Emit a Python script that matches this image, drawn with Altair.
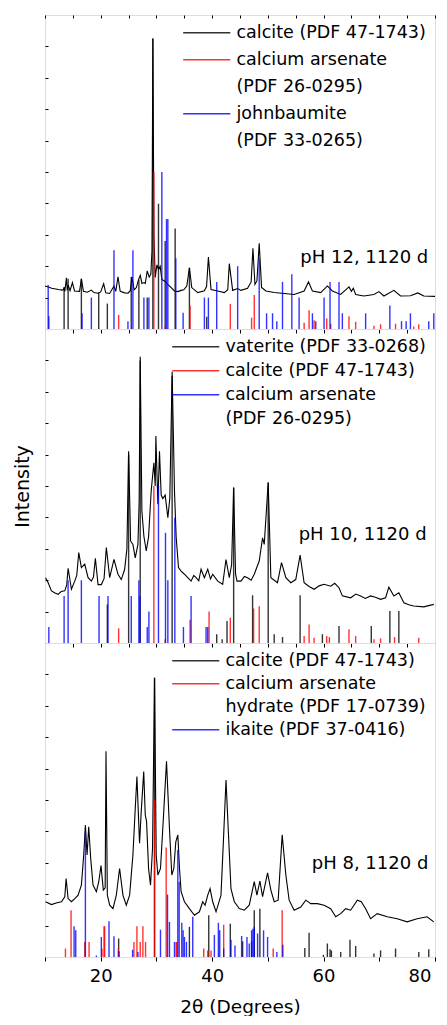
import altair as alt
import pandas as pd

FONT = "DejaVu Sans"
BLACK, RED, BLUE, NONE = "#000000", "#ff0000", "#0000ff", "rgba(0,0,0,0)"

# ---------------- Top panel : pH 12, 1120 d ----------------
TOP_CURVE = [
    (10.0, 13.7), (10.6, 13.4), (11.2, 13.0), (12.4, 12.6), (13.2, 12.4), (13.43, 13.0), (13.55, 12.0),
    (13.85, 16.3), (14.0, 12.3), (14.15, 14.0), (14.5, 12.2), (14.92, 14.8), (15.3, 12.1), (16.2, 12.0),
    (16.53, 16.0), (16.9, 12.0), (17.6, 11.7), (18.32, 12.4), (18.8, 11.6), (19.5, 11.4), (20.0, 11.8),
    (20.53, 14.4), (20.9, 11.5), (21.6, 11.3), (22.38, 13.7), (22.7, 12.0), (23.1, 16.6), (23.5, 12.0),
    (24.3, 11.5), (24.9, 11.4), (25.3, 12.2), (25.6, 16.6), (26.0, 12.5), (26.4, 13.2), (26.8, 15.8),
    (27.1, 17.1), (27.4, 14.5), (27.8, 14.8), (28.0, 14.5), (28.35, 18.5), (28.7, 16.5), (29.0, 17.5),
    (29.2, 25.0), (29.36, 92.5), (29.55, 30.0), (29.78, 16.4), (30.08, 20.4), (30.37, 19.0), (30.67, 20.0),
    (30.97, 15.8), (31.45, 15.3), (32.05, 14.2), (32.64, 13.2), (33.24, 12.1), (33.84, 11.9), (34.43, 12.3),
    (34.9, 12.5), (35.45, 13.7), (35.92, 19.5), (36.34, 13.2), (37.42, 11.6), (38.6, 12.2), (39.0, 13.5),
    (39.33, 22.9), (39.8, 12.6), (41.0, 12.1), (42.19, 11.6), (42.8, 12.5), (43.08, 20.8), (43.68, 12.3),
    (44.58, 12.9), (45.17, 12.3), (46.36, 13.0), (47.0, 15.0), (47.32, 25.7), (47.68, 14.2), (48.04, 15.3),
    (48.45, 27.3), (48.87, 13.2), (49.65, 12.1), (51.14, 11.6), (52.93, 11.3), (54.72, 11.0), (56.51, 12.1),
    (57.29, 15.0), (58.0, 12.1), (59.49, 11.6), (60.68, 13.7), (61.58, 12.1), (63.07, 11.0), (64.56, 13.4),
    (65.0, 12.0), (65.34, 13.0), (65.76, 11.0), (67.25, 10.5), (69.04, 11.0), (69.93, 11.9), (70.83, 10.5),
    (72.62, 12.3), (73.81, 10.5), (75.59, 10.6), (76.91, 11.5), (77.99, 10.5), (80.0, 10.4),
]
# legend rows (a row whose colour is NONE continues the label of the row above)
TOP_LEGEND = ["calcite (PDF 47-1743)", "calcium arsenate", "(PDF 26-0295)", "johnbaumite", "(PDF 33-0265)"]
TOP_LEGEND_COLORS = [BLACK, RED, NONE, BLUE, NONE]
TOP_BLACK = [
    (13.43, 13.4), (14.15, 16.0), (16.53, 16.0), (19.64, 11.6), (21.19, 8.1), (25.48, 16.6), (26.85, 15.8),
    (28.35, 10.0), (29.36, 92.5), (30.37, 39.9), (31.57, 28.0), (33.36, 32.0), (35.92, 19.5), (39.03, 3.9),
]
TOP_RED = [
    (23.22, 4.5), (29.54, 50.0), (31.57, 1.0), (36.04, 7.5), (43.26, 8.0), (47.08, 3.6), (47.56, 10.8),
    (56.51, 2.0), (57.40, 6.0), (58.30, 2.8), (60.56, 3.4), (61.28, 1.7), (64.56, 4.1), (65.76, 2.3),
    (69.04, 1.0), (70.23, 1.5), (72.92, 1.7), (76.19, 0.8), (77.09, 1.5),
]
TOP_BLUE = [
    (10.57, 14.0), (10.69, 4.1), (16.65, 5.0), (18.32, 10.0), (22.38, 25.1), (24.89, 2.5), (25.78, 25.1),
    (27.75, 10.0), (28.65, 10.0), (30.97, 50.0), (31.81, 35.0), (32.05, 35.0), (33.48, 22.5), (34.79, 5.2),
    (38.61, 10.0), (39.33, 10.0), (40.82, 15.0), (44.58, 20.0), (48.45, 22.5), (49.77, 5.0), (50.84, 5.0),
    (51.61, 2.5), (52.63, 15.0), (54.30, 17.4), (55.61, 10.0), (58.0, 5.0), (58.6, 2.5), (60.09, 10.0),
    (61.16, 15.0), (62.77, 15.0), (63.37, 5.0), (67.55, 5.0), (71.90, 7.5), (73.99, 2.5), (74.82, 2.5),
    (75.59, 5.0), (78.88, 2.5), (79.78, 5.0),
]
TOP_LABEL = ("pH 12, 1120 d", 78.8, 22.6)

# ---------------- Middle panel : pH 10, 1120 d ----------------
MID_CURVE = [
    (10.09, 20.8), (10.57, 19.2), (11.16, 16.6), (11.8, 15.9), (12.36, 15.5), (12.9, 16.4), (13.55, 16.6),
    (13.9, 18.5), (14.15, 23.8), (14.74, 17.1), (15.34, 19.7), (15.7, 21.5), (16.06, 28.8), (16.53, 24.0),
    (17.13, 25.1), (17.73, 20.8), (18.32, 19.7), (18.7, 21.0), (19.04, 27.0), (19.52, 18.6), (20.11, 18.6),
    (20.6, 20.5), (21.01, 30.4), (21.61, 20.8), (22.38, 26.6), (23.10, 21.9), (23.69, 20.2), (24.29, 23.4),
    (24.7, 30.0), (25.01, 61.1), (25.36, 32.5), (25.78, 31.4), (26.20, 27.1), (26.68, 31.4), (26.9, 45.0),
    (27.09, 91.2), (27.39, 42.0), (27.75, 34.0), (28.17, 29.3), (28.59, 33.8), (29.06, 48.4), (29.54, 57.4),
    (29.78, 50.0), (29.90, 65.9), (30.26, 44.2), (30.55, 61.1), (30.85, 47.1), (31.15, 46.0), (31.57, 47.1),
    (32.05, 39.9), (32.40, 46.0), (32.82, 86.4), (33.24, 48.4), (33.54, 33.8), (33.96, 24.0), (34.43, 22.9),
    (35.03, 21.9), (35.63, 20.8), (36.22, 19.7), (36.7, 21.5), (37.12, 20.8), (37.6, 19.8), (38.01, 23.5),
    (38.61, 20.8), (39.21, 23.5), (39.7, 20.4), (40.10, 21.9), (41.00, 19.7), (41.89, 18.7), (42.49, 26.6),
    (43.08, 20.8), (43.5, 25.0), (43.86, 49.5), (44.2, 22.0), (44.46, 19.7), (45.17, 19.7), (45.8, 21.2),
    (46.36, 20.8), (47.0, 20.0), (47.56, 21.9), (48.45, 26.1), (49.05, 33.5), (49.35, 31.4), (50.06, 51.1),
    (50.54, 20.8), (51.73, 19.2), (52.45, 25.6), (53.23, 20.8), (54.12, 19.2), (55.01, 20.2), (55.79, 28.0),
    (56.51, 19.2), (57.4, 18.0), (58.30, 17.1), (59.2, 18.2), (60.09, 18.7), (61.28, 18.1), (62.0, 19.0),
    (62.77, 17.6), (63.37, 15.0), (64.86, 14.4), (65.8, 15.6), (66.65, 15.0), (67.5, 14.2), (68.44, 15.0),
    (69.3, 14.6), (70.23, 13.9), (71.13, 14.4), (71.72, 17.8), (72.62, 15.0), (73.51, 16.0), (74.41, 12.8),
    (75.3, 12.2), (76.19, 11.8), (77.99, 11.5), (79.78, 12.3),
]
MID_LEGEND = ["vaterite (PDF 33-0268)", "calcite (PDF 47-1743)", "calcium arsenate", "(PDF 26-0295)"]
MID_LEGEND_COLORS = [BLACK, RED, BLUE, NONE]
MID_BLACK = [
    (21.19, 12.3), (25.01, 60.0), (27.09, 90.0), (32.82, 85.0), (40.82, 2.8), (41.80, 1.2), (42.67, 7.0),
    (43.86, 49.5), (47.26, 15.2), (50.06, 51.1), (51.14, 2.8), (52.63, 1.9), (55.79, 15.2), (59.79, 2.8),
    (62.77, 5.4), (68.56, 5.4), (71.90, 10.2), (73.51, 10.2),
]
MID_RED = [
    (23.22, 4.7), (29.54, 50.0), (31.57, 1.2), (36.04, 7.4), (39.45, 10.0), (43.26, 8.1), (47.44, 11.0),
    (48.45, 11.7), (56.51, 2.2), (57.40, 5.9), (58.30, 1.7), (60.56, 2.2), (61.04, 1.9), (64.56, 4.4),
    (65.76, 2.2), (69.04, 1.2), (70.23, 1.5), (72.74, 1.9), (77.09, 1.7),
]
MID_BLUE = [
    (10.69, 5.1), (13.43, 15.0), (14.15, 20.0), (16.53, 20.0), (19.70, 15.0), (21.31, 15.0), (25.48, 15.0),
    (26.85, 20.0), (27.03, 15.0), (28.35, 5.1), (28.65, 10.0), (30.37, 50.0), (31.63, 35.1), (32.05, 20.0),
    (33.30, 39.9), (34.85, 5.1), (36.22, 15.0), (38.91, 5.1), (39.21, 5.1),
]
MID_LABEL = ("pH 10, 1120 d", 78.5, 34.4)

# ---------------- Bottom panel : pH 8, 1120 d ----------------
BOT_CURVE = [
    (10.09, 17.6), (11.16, 16.7), (12.0, 17.2), (12.95, 17.6), (13.55, 19.2), (13.79, 25.0), (14.15, 18.6),
    (14.74, 17.6), (15.34, 18.6), (15.94, 19.7), (16.53, 22.9), (16.95, 32.5), (17.25, 42.0), (17.55, 32.5),
    (17.85, 41.5), (18.20, 31.4), (18.62, 22.9), (19.22, 20.8), (19.64, 23.9), (20.05, 29.1), (20.47, 21.3),
    (20.8, 22.0), (20.95, 65.5), (21.19, 19.7), (21.61, 16.5), (22.20, 15.4), (22.80, 19.7), (23.39, 28.2),
    (23.99, 19.7), (24.59, 16.5), (25.19, 19.7), (25.78, 32.5), (26.20, 47.4), (26.50, 57.5), (26.80, 43.7),
    (26.97, 36.2), (27.27, 46.3), (27.72, 59.1), (27.99, 45.3), (28.23, 43.1), (28.59, 28.2), (28.94, 22.9),
    (29.30, 34.6), (29.66, 88.9), (29.96, 32.5), (30.26, 26.1), (30.73, 28.2), (31.21, 43.1), (31.81, 62.3),
    (32.34, 40.9), (32.76, 26.1), (33.12, 28.2), (33.48, 36.7), (33.84, 38.9), (34.14, 28.2), (34.43, 20.8),
    (35.03, 17.6), (35.92, 15.4), (36.82, 13.3), (37.71, 14.4), (38.31, 17.6), (38.73, 16.5), (39.21, 19.7),
    (39.63, 21.8), (40.10, 17.6), (40.70, 14.4), (41.59, 19.7), (42.07, 38.9), (42.49, 56.4), (42.91, 39.9),
    (43.38, 21.8), (43.98, 17.6), (44.87, 15.4), (45.77, 14.9), (46.66, 16.5), (47.56, 24.0), (48.04, 19.7),
    (48.57, 24.2), (49.05, 19.2), (49.95, 26.8), (50.54, 21.3), (51.14, 17.6), (51.85, 18.1), (52.57, 38.9),
    (53.23, 26.1), (53.82, 18.1), (54.72, 14.9), (55.91, 15.9), (56.81, 18.1), (57.70, 17.0), (58.89, 17.0),
    (60.09, 16.5), (61.28, 15.4), (62.18, 12.8), (63.07, 13.8), (63.97, 15.4), (64.86, 14.9), (66.06, 18.1),
    (66.77, 17.6), (67.55, 15.4), (68.44, 12.2), (69.63, 13.8), (71.43, 12.8), (73.22, 12.2), (75.00, 11.2),
    (76.79, 12.2), (78.58, 12.8), (79.78, 11.2),
]
BOT_LEGEND = ["calcite (PDF 47-1743)", "calcium arsenate", "hydrate (PDF 17-0739)", "ikaite (PDF 37-0416)"]
BOT_LEGEND_COLORS = [BLACK, RED, NONE, BLUE]
BOT_BLACK = [
    (23.22, 5.9), (29.66, 88.9), (35.92, 9.6), (39.39, 13.3), (43.26, 10.6), (45.47, 5.0), (47.08, 5.0),
    (47.56, 14.9), (48.57, 15.4), (56.63, 2.9), (57.40, 7.7), (59.97, 0.7), (60.68, 4.3), (61.16, 2.5),
    (61.40, 2.1), (63.07, 1.6), (64.74, 5.5), (65.76, 3.5), (69.04, 1.1), (70.23, 2.1), (72.92, 2.7),
    (77.09, 1.6), (78.88, 2.5),
]
BOT_RED = [
    (13.67, 2.7), (14.68, 14.9), (17.13, 4.8), (17.91, 4.8), (20.23, 2.7), (20.59, 9.8), (20.71, 9.8),
    (23.16, 2.7), (25.96, 4.8), (26.50, 9.8), (27.09, 4.8), (27.57, 9.8), (28.05, 4.8), (29.66, 50.0),
    (31.75, 34.9), (33.54, 4.8), (33.66, 4.8), (38.49, 2.7), (39.21, 2.1), (39.80, 2.1), (42.07, 10.3),
    (50.96, 2.7), (52.57, 14.9),
]
BOT_BLUE = [
    (15.22, 9.8), (15.52, 8.5), (17.25, 40.0), (19.22, 0.5), (20.11, 6.4), (21.49, 11.4), (22.38, 6.6),
    (23.28, 1.8), (25.72, 2.3), (26.68, 1.6), (30.73, 8.7), (31.99, 19.9), (32.34, 11.2), (33.24, 4.8),
    (33.84, 34.1), (34.08, 24.0), (34.55, 10.9), (34.79, 8.5), (35.03, 6.4), (35.39, 4.8), (36.52, 12.8),
    (40.40, 7.0), (41.12, 10.9), (41.36, 8.5), (42.07, 2.7), (43.38, 5.5), (44.10, 3.7), (45.29, 6.7),
    (46.25, 6.4), (46.66, 4.3), (47.08, 8.5), (47.32, 9.0), (47.56, 9.6), (48.16, 7.5), (49.23, 8.5),
    (49.95, 6.4), (51.61, 1.6), (52.69, 3.9),
]
BOT_LABEL = ("pH 8, 1120 d", 78.8, 29.7)

X_TITLE = "2θ (Degrees)"
Y_TITLE = "Intensity"
X_TICKS = list(range(10, 81, 5))
Y_TICKS = list(range(10, 100, 10))


def panel(curve, legend_rows, legend_colors, black, red, blue, label, row_pad, position):
    curve_df = pd.DataFrame(curve, columns=["two_theta", "intensity"])
    phase_names = [r for r, c in zip(legend_rows, legend_colors) if c != NONE]
    rows = []
    for name, sticks in zip(phase_names, [black, red, blue]):
        for t, i in sticks:
            rows.append({"two_theta": t, "intensity": i, "phase": name})
    stick_df = pd.DataFrame(rows)
    label_df = pd.DataFrame([{"text": label[0], "two_theta": label[1], "intensity": label[2]}])

    xscale = alt.Scale(domain=[10, 80], nice=False, zero=False)
    yscale = alt.Scale(domain=[0, 100], nice=False, zero=True)
    if position == "bottom":
        xaxis = alt.Axis(values=list(range(10, 81, 10)),
                         labelExpr="datum.value % 20 == 0 ? datum.label : ''",
                         tickSize=4, tickColor="black", domain=False, grid=False,
                         labelFontSize=18, labelColor="black", labelPadding=6,
                         labelFont=FONT, title=X_TITLE, titleFontSize=18.5,
                         titleFontWeight="normal", titleFont=FONT, titlePadding=12,
                         titleColor="black", labelFlush=True, labelFlushOffset=-4)
    else:
        xaxis = alt.Axis(values=X_TICKS, labels=False, title=None,
                         tickSize=4, tickColor="black", domain=False, grid=False)
    # small inward ticks along the left frame
    ykw = dict(values=Y_TICKS, labels=False, ticks=True, tickSize=3, offset=-3,
               tickColor="black", domain=False, grid=False)
    if position == "middle":
        yaxis = alt.Axis(title=Y_TITLE, titleFontSize=19, titleFontWeight="normal", titleFont=FONT,
                         titlePadding=12.5, titleColor="black", **ykw)
    else:
        yaxis = alt.Axis(title=None, **ykw)

    X = alt.X("two_theta:Q", scale=xscale, axis=xaxis)
    Y = alt.Y("intensity:Q", scale=yscale, axis=yaxis)

    if position == "top":
        X_sticks = alt.X("two_theta:Q", scale=xscale, axis=None)
        # inward ticks along the top frame of the first panel
        X_text = alt.X("two_theta:Q", scale=xscale,
                       axis=alt.Axis(orient="top", values=X_TICKS, labels=False, title=None,
                                     tickSize=3, offset=-3, tickColor="black", domain=False,
                                     grid=False))
    else:
        X_sticks = X
        X_text = X

    line = alt.Chart(curve_df).mark_line(color="black", strokeWidth=1.1).encode(x=X, y=Y)
    sticks = alt.Chart(stick_df).mark_rule(strokeWidth=1.4, opacity=0.8).encode(
        x=X_sticks, y=Y, y2=alt.datum(0),
        color=alt.Color("phase:N", scale=alt.Scale(domain=legend_rows, range=legend_colors),
                        legend=alt.Legend(title=None, orient="top-right", offset=9,
                                          labelFontSize=17.5, labelFont=FONT, labelColor="black",
                                          labelBaseline="middle", labelLimit=400, labelOffset=21,
                                          symbolType="M-12,0L12,0", symbolSize=15.4,
                                          symbolStrokeWidth=1.5, rowPadding=row_pad, padding=0)),
    )
    text = alt.Chart(label_df).mark_text(align="right", baseline="middle", fontSize=18,
                                         font=FONT, color="black").encode(x=X_text, y=Y, text="text:N")
    layered = alt.layer(line, sticks, text).properties(width=390, height=314)
    if position == "top":
        layered = layered.resolve_axis(x="independent")
    return layered


top = panel(TOP_CURVE, TOP_LEGEND, TOP_LEGEND_COLORS, TOP_BLACK, TOP_RED, TOP_BLUE, TOP_LABEL, 8, "top")
mid = panel(MID_CURVE, MID_LEGEND, MID_LEGEND_COLORS, MID_BLACK, MID_RED, MID_BLUE, MID_LABEL, 5, "middle")
bot = panel(BOT_CURVE, BOT_LEGEND, BOT_LEGEND_COLORS, BOT_BLACK, BOT_RED, BOT_BLUE, BOT_LABEL, 4, "bottom")

chart = (
    alt.vconcat(top, mid, bot, spacing=0, bounds="flush")
    .resolve_scale(color="independent")
    .properties(padding={"left": 4, "top": 6, "right": 0, "bottom": 0})
    .configure_view(stroke="black", strokeWidth=1.5)
    .configure(font=FONT)
)

chart.save("out.html", embed_options={"renderer": "svg", "actions": False})
